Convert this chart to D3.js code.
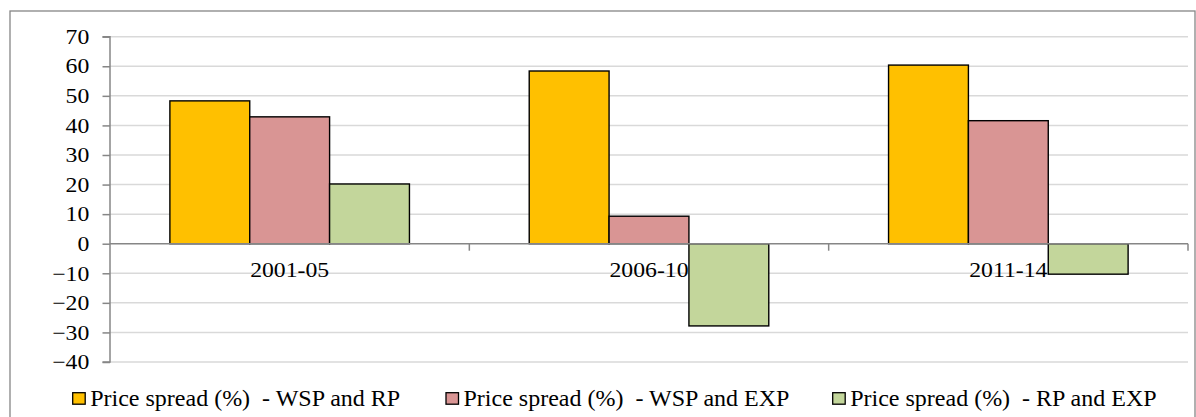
<!DOCTYPE html>
<html><head><meta charset="utf-8">
<script src="https://cdn.jsdelivr.net/npm/d3@7"></script>
<style>body{margin:0;background:#fff}svg{display:block}svg text{font-family:"Liberation Serif","Tinos","Times New Roman","DejaVu Serif",serif !important;fill:#000}</style>
</head><body><svg id="c" width="1196" height="417"></svg>
<script>
const categories = ["2001-05", "2006-10", "2011-14"];
const seriesNames = ["Price spread (%)  - WSP and RP", "Price spread (%)  - WSP and EXP", "Price spread (%)  - RP and EXP"];
const wspRp = [48.3, 58.4, 60.4];
const wspExp = [42.9, 9.3, 41.6];
const rpExp = [20.2, -27.8, -10.3];
const yTicks = [70, 60, 50, 40, 30, 20, 10, 0, -10, -20, -30, -40];
const colors = ["#FFC000", "#D99594", "#C3D69B"];

const series = [wspRp, wspExp, rpExp];
const svg = d3.select("#c");
svg.append("rect").attr("x", 10).attr("y", 11).attr("width", 1185).attr("height", 420)
  .attr("fill", "none").attr("stroke", "#868686").attr("stroke-width", 1.3);

const L = 110, R = 1188, T = 36.7, B = 362;
const SX = 1.13, FS = 21;
const y = d3.scaleLinear().domain([-40, 70]).range([B, T]);
const x0 = d3.scaleBand().domain(categories).range([L, R]).paddingInner(0).paddingOuter(0);
const bw = x0.bandwidth() / 4.5;
const x1 = d3.scaleBand().domain(d3.range(3)).range([bw * 0.75, bw * 3.75]).padding(0);

svg.append("g").selectAll("line").data(yTicks.filter(d => d !== 0)).join("line")
  .attr("x1", L).attr("x2", R).attr("y1", d => y(d)).attr("y2", d => y(d))
  .attr("stroke", "#d9d9d9").attr("stroke-width", 1.5);

const g = svg.append("g");
categories.forEach((c, i) => {
  series.forEach((s, j) => {
    const v = s[i];
    g.append("rect")
      .attr("x", x0(c) + x1(j)).attr("width", x1.bandwidth())
      .attr("y", y(Math.max(0, v))).attr("height", Math.abs(y(v) - y(0)))
      .attr("fill", colors[j]).attr("stroke", "#000").attr("stroke-width", 1.4);
  });
});

const ya = svg.append("g").attr("transform", `translate(${L},0)`)
  .call(d3.axisLeft(y).tickValues(yTicks).tickSize(7.5).tickPadding(20.7).tickFormat(d3.format("d")));
ya.attr("font-family", null).attr("font-size", null);
ya.select(".domain").attr("stroke", "#868686").attr("stroke-width", 1.5).attr("d", `M-7.5,${T}H0V${B}H-7.5`);
ya.selectAll(".tick line").attr("stroke", "#868686").attr("stroke-width", 1.5);
ya.selectAll(".tick text").attr("font-size", FS)
  .attr("transform", `translate(-20.7,0) scale(${SX},1)`).attr("x", 0);

const xa = svg.append("g").attr("transform", `translate(0,${y(0)})`);
xa.append("line").attr("x1", L).attr("x2", R).attr("stroke", "#868686").attr("stroke-width", 1.5);
xa.selectAll("line.tk").data(categories).join("line").attr("class", "tk")
  .attr("x1", d => x0(d) + x0.bandwidth()).attr("x2", d => x0(d) + x0.bandwidth())
  .attr("y1", 0).attr("y2", 7).attr("stroke", "#868686").attr("stroke-width", 1.5);
xa.selectAll("text").data(categories).join("text")
  .attr("transform", d => `translate(${x0(d) + x0.bandwidth() / 2},33.5) scale(${SX},1)`)
  .attr("text-anchor", "middle").attr("font-size", FS).text(d => d);

const legX = [72.7, 446, 832.7];
const lg = svg.append("g");
seriesNames.forEach((n, j) => {
  lg.append("rect").attr("x", legX[j]).attr("y", 392.7).attr("width", 12.5).attr("height", 11.5)
    .attr("fill", colors[j]).attr("stroke", "#000").attr("stroke-width", 1.3);
  lg.append("text").attr("x", legX[j] + 17.5).attr("y", 405.5).attr("font-size", 24)
    .style("white-space", "pre").text(n);
});
</script></body></html>
